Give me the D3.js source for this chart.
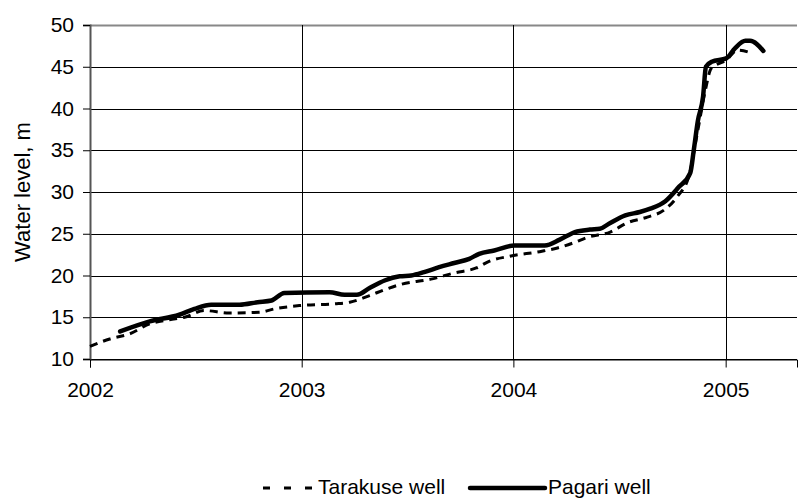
<!DOCTYPE html>
<html>
<head>
<meta charset="utf-8">
<script src="https://cdn.jsdelivr.net/npm/d3@7"></script>
<style>
  body { margin: 0; background: #fff; }
  text { font-family: "Liberation Sans", Arial, sans-serif; fill: #000; }
</style>
</head>
<body>
<div id="chart"></div>
<script>
// water level series (date, metres)
const pagariDates = ['2002-02-22', '2002-04-14', '2002-06-04', '2002-06-30', '2002-07-29', '2002-09-16',
  '2002-10-17', '2002-11-10', '2002-12-02', '2003-02-18', '2003-03-16', '2003-04-06', '2003-04-28',
  '2003-05-24', '2003-06-19', '2003-07-09', '2003-07-31', '2003-08-26', '2003-09-21', '2003-10-17',
  '2003-11-03', '2003-11-29', '2004-01-03', '2004-02-24', '2004-03-21', '2004-04-16', '2004-05-12',
  '2004-05-29', '2004-06-16', '2004-07-12', '2004-08-06', '2004-08-24', '2004-09-19', '2004-10-11',
  '2004-11-01', '2004-11-07', '2004-11-14', '2004-11-23', '2004-11-28', '2004-12-08', '2005-01-02',
  '2005-01-17', '2005-02-04', '2005-02-12', '2005-03-07'];
const pagariLevels = [13.3, 14.5, 15.3, 16.0, 16.5, 16.5,
  16.8, 17.0, 17.9, 18.0, 17.7, 17.7, 18.5,
  19.4, 19.9, 20.0, 20.4, 21.0, 21.5, 22.0,
  22.6, 23.0, 23.6, 23.6, 24.3, 25.2, 25.5,
  25.6, 26.3, 27.2, 27.6, 28.0, 28.9, 30.5,
  32.3, 35.0, 38.5, 41.4, 45.0, 45.6, 46.0,
  47.2, 48.1, 48.1, 46.9];

const tarakuseDates = ['2002-01-01', '2002-02-04', '2002-03-10', '2002-04-14', '2002-05-18', '2002-06-13',
  '2002-07-17', '2002-08-29', '2002-10-20', '2002-11-15', '2002-12-28', '2003-02-27', '2003-03-25',
  '2003-04-28', '2003-05-24', '2003-06-19', '2003-08-14', '2003-09-21', '2003-10-29', '2003-11-20',
  '2003-12-25', '2004-02-19', '2004-03-17', '2004-04-13', '2004-05-09', '2004-06-16', '2004-07-15',
  '2004-08-19', '2004-09-16', '2004-10-09', '2004-10-30', '2004-11-13', '2004-11-27', '2004-12-07',
  '2005-01-02', '2005-01-22', '2005-02-16'];
const tarakuseLevels = [11.5, 12.4, 13.0, 14.2, 14.7, 15.0,
  15.8, 15.5, 15.6, 16.0, 16.4, 16.6, 16.8,
  17.6, 18.3, 18.9, 19.6, 20.3, 20.9, 21.7,
  22.3, 22.9, 23.3, 23.9, 24.6, 25.2, 26.3,
  27.0, 27.8, 29.4, 32.0, 37.0, 42.2, 44.8,
  45.8, 47.0, 46.6];

const yTicks = [10, 15, 20, 25, 30, 35, 40, 45, 50];
const xTicks = ['2002-01-01', '2003-01-01', '2004-01-01', '2005-01-01'];
const seriesNames = ['Tarakuse well', 'Pagari well'];

const width = 798;
const height = 501;
const margin = { top: 25, right: 1, bottom: 142, left: 90 };
const parse = d3.timeParse('%Y-%m-%d');

const toPoints = (dates, levels) => dates.map((d, i) => ({ date: parse(d), value: levels[i] }));
const tarakuse = toPoints(tarakuseDates, tarakuseLevels);
const pagari = toPoints(pagariDates, pagariLevels);

const svg = d3.select('#chart').append('svg')
  .attr('width', width)
  .attr('height', height);

// scales
const x = d3.scaleTime()
  .domain([parse('2002-01-01'), parse('2005-05-04')])
  .range([margin.left, width - margin.right]);
const y = d3.scaleLinear()
  .domain([10, 50])
  .range([height - margin.bottom, margin.top]);

// horizontal gridlines
svg.append('g')
  .selectAll('line')
  .data(yTicks)
  .join('line')
  .attr('x1', margin.left)
  .attr('x2', width - margin.right)
  .attr('y1', d => Math.round(y(d)) + 0.5)
  .attr('y2', d => Math.round(y(d)) + 0.5)
  .attr('stroke', d => (d === 50 ? '#888' : '#000'))
  .attr('stroke-width', d => (d === 50 ? 2 : 1));

// vertical gridlines at each year
svg.append('g')
  .selectAll('line')
  .data(xTicks.slice(1))
  .join('line')
  .attr('x1', d => Math.round(x(parse(d))) + 0.5)
  .attr('x2', d => Math.round(x(parse(d))) + 0.5)
  .attr('y1', margin.top)
  .attr('y2', y(10))
  .attr('stroke', '#000')
  .attr('stroke-width', 1);

// y axis
const yAxis = svg.append('g')
  .attr('transform', `translate(${margin.left},0)`)
  .call(d3.axisLeft(y).tickValues(yTicks).tickSize(7).tickPadding(9));
yAxis.select('.domain').attr('stroke', '#555').attr('stroke-width', 2);
yAxis.selectAll('.tick line').attr('stroke', '#000');
yAxis.selectAll('.tick text').style('font-size', '21px').attr('fill', '#000');

// x axis
const xAxis = svg.append('g')
  .attr('transform', `translate(0,${Math.round(y(10)) + 0.5})`)
  .call(d3.axisBottom(x).tickValues(xTicks.map(parse)).tickFormat(d3.timeFormat('%Y'))
    .tickSize(8).tickPadding(15));
xAxis.select('.domain').attr('stroke', '#000').attr('stroke-width', 1);
xAxis.selectAll('.tick line').attr('stroke', '#000');
xAxis.selectAll('.tick text').style('font-size', '21px').attr('fill', '#000');

// y axis title
svg.append('text')
  .attr('transform', `translate(22,${(margin.top + y(10)) / 2}) rotate(-90)`)
  .attr('text-anchor', 'middle')
  .attr('dy', '0.35em')
  .style('font-size', '22px')
  .text('Water level, m');

// lines
const line = d3.line()
  .x(d => x(d.date))
  .y(d => y(d.value))
  .curve(d3.curveMonotoneX);

svg.append('path')
  .datum(tarakuse)
  .attr('fill', 'none')
  .attr('stroke', '#000')
  .attr('stroke-width', 3)
  .attr('stroke-dasharray', '8,6')
  .attr('d', line);

svg.append('path')
  .datum(pagari)
  .attr('fill', 'none')
  .attr('stroke', '#000')
  .attr('stroke-width', 4.5)
  .attr('stroke-linejoin', 'round')
  .attr('stroke-linecap', 'round')
  .attr('d', line);

// legend (kept low, as in the picture, but clear of the bottom edge)
const legendY = 488;
const legend = svg.append('g');
legend.append('line')
  .attr('x1', 263).attr('x2', 316)
  .attr('y1', legendY).attr('y2', legendY)
  .attr('stroke', '#000')
  .attr('stroke-width', 3)
  .attr('stroke-dasharray', '7,14');
legend.append('text')
  .attr('x', 318).attr('y', 494)
  .style('font-size', '21px')
  .text(seriesNames[0]);
legend.append('line')
  .attr('x1', 470).attr('x2', 545)
  .attr('y1', legendY).attr('y2', legendY)
  .attr('stroke', '#000')
  .attr('stroke-width', 4.5)
  .attr('stroke-linecap', 'round');
legend.append('text')
  .attr('x', 548).attr('y', 494)
  .style('font-size', '21px')
  .text(seriesNames[1]);
</script>
</body>
</html>
